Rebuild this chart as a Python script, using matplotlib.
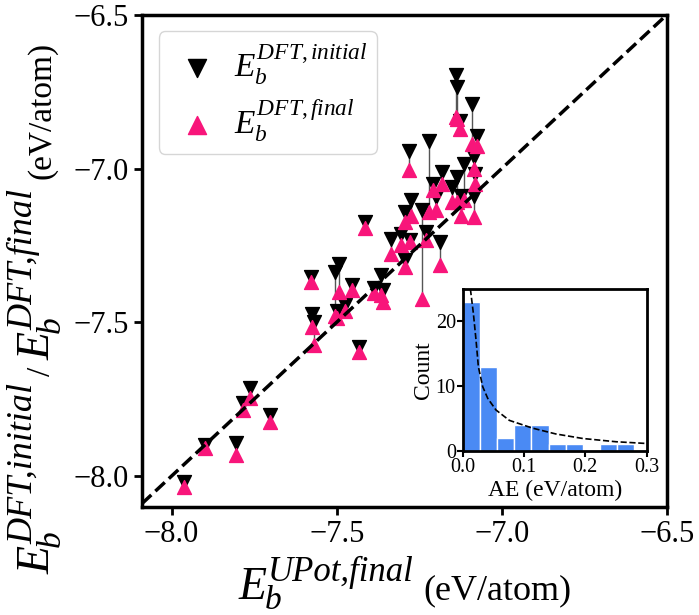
import matplotlib.pyplot as plt
from matplotlib.transforms import IdentityTransform

plt.rcParams['font.family'] = ['Liberation Serif', 'DejaVu Serif']
plt.rcParams['mathtext.fontset'] = 'custom'
plt.rcParams['mathtext.rm'] = 'Liberation Serif'
plt.rcParams['mathtext.it'] = 'Liberation Serif:italic'
plt.rcParams['mathtext.bf'] = 'Liberation Serif:bold'

# binding energies (eV/atom): UPot final vs DFT initial / final
e_upot = [-7.139, -7.136, -7.125, -7.091, -7.076, -7.281, -7.220, -7.182, -7.208, -7.137,
          -7.115, -7.081, -7.084, -7.152, -7.122, -7.083, -7.198, -7.274, -7.294, -7.243,
          -7.228, -7.334, -7.304, -7.279, -7.188, -7.294, -7.365, -7.578, -7.494, -7.504,
          -7.453, -7.476, -7.500, -7.388, -7.361, -7.574, -7.570, -7.432, -7.763, -7.785,
          -7.703, -7.899, -7.806, -7.961, -7.413]
e_init = [-6.695, -6.736, -6.844, -6.790, -6.893, -6.942, -6.909, -7.012, -7.050, -7.028,
          -6.985, -7.017, -6.963, -7.060, -7.088, -7.088, -7.093, -7.104, -7.142, -7.136,
          -7.207, -7.228, -7.212, -7.234, -7.239, -7.299, -7.347, -7.352, -7.309, -7.336,
          -7.380, -7.444, -7.465, -7.390, -7.396, -7.472, -7.500, -7.580, -7.715, -7.762,
          -7.802, -7.899, -7.894, -8.021, -7.173]
e_final = [-6.833, -6.839, -6.871, -6.920, -6.927, -7.006, -7.142, -7.050, -7.071, -7.109,
           -7.104, -7.050, -7.001, -7.109, -7.153, -7.158, -7.136, -7.153, -7.174, -7.423,
           -7.234, -7.277, -7.250, -7.239, -7.315, -7.320, -7.412, -7.368, -7.400, -7.481,
           -7.396, -7.465, -7.487, -7.406, -7.433, -7.514, -7.574, -7.596, -7.747, -7.786,
           -7.823, -7.910, -7.932, -8.037, -7.195]

# inset: AE histogram + fitted curve
ae_edges = [0.0, 0.028, 0.056, 0.084, 0.112, 0.140, 0.168, 0.196, 0.224, 0.252, 0.280]
ae_counts = [23, 13, 2, 4, 4, 1, 1, 0, 1, 1]
fit_x = [0.0125, 0.0174, 0.0217, 0.0255, 0.0326, 0.0408, 0.0543, 0.0761, 0.114, 0.152, 0.196, 0.25, 0.30]
fit_y = [25.0, 21.2, 17.1, 13.0, 9.9, 8.1, 6.3, 4.7, 3.5, 2.6, 1.9, 1.4, 1.13]

pink = '#f8157a'
blue = '#4a8af4'


def energy_pieces(sup, big=33, sup_fs=26, sub_fs=24, gap=0):
    # E with subscript b and a superscript, as separate text pieces
    return [('E', big, 'italic', gap, 0, True),
            ('b', sub_fs, 'italic', -1, -10, False),
            (sup, sup_fs, 'italic', 2, 18, True)]


def chain_text(fig, pieces, x0, y0, center, vertical=False):
    # lay out label pieces one after another (pixel coords),
    # then shift the whole group so it is centred on `center`
    renderer = fig.canvas.get_renderer()
    pos = far = 0.0
    texts = []
    for s, size, style, gap, shift, advance in pieces:
        start = pos + gap
        if vertical:
            t = fig.text(x0 - shift, y0 + start, s, fontsize=size, fontstyle=style,
                         rotation=90, rotation_mode='anchor', ha='left', va='baseline',
                         transform=IdentityTransform())
            end = t.get_window_extent(renderer).y1 - y0
        else:
            t = fig.text(x0 + start, y0 + shift, s, fontsize=size, fontstyle=style,
                         ha='left', va='baseline', transform=IdentityTransform())
            end = t.get_window_extent(renderer).x1 - x0
        far = max(far, end)
        if advance:
            pos = far
        texts.append(t)
    offset = center - ((y0 if vertical else x0) + far / 2)
    for t in texts:
        x, y = t.get_position()
        t.set_position((x, y + offset) if vertical else (x + offset, y))


fig = plt.figure(figsize=(6.99, 6.15), dpi=100)
ax = fig.add_axes([0.203, 0.176, 0.751, 0.800])

ax.vlines(e_upot, e_init, e_final, color='#555555', lw=1, zorder=1)
ax.scatter(e_upot, e_init, marker='v', s=100, c='black', zorder=2,
           label=r'$E_b^{DFT,initial}$')
ax.scatter(e_upot, e_final, marker='^', s=100, c=pink, zorder=3,
           label=r'$E_b^{DFT,final}$')
ax.axline((-7.0, -7.0), slope=1, color='black', ls='--', lw=2.5, zorder=4)

ax.set_xlim(-8.09, -6.5)
ax.set_ylim(-8.1, -6.5)
ax.set_xticks([-8.0, -7.5, -7.0, -6.5])
ax.set_yticks([-8.0, -7.5, -7.0, -6.5])
ax.tick_params(labelsize=22, width=2, length=6)
for sp in ax.spines.values():
    sp.set_linewidth(2.5)

leg = ax.legend(loc='upper left', fontsize=24, handletextpad=0.25, handlelength=1.7,
                borderpad=0.3, labelspacing=0.3, markerscale=1.3, fancybox=True)
leg.get_frame().set_edgecolor('#cccccc')

# axis labels built from pieces (large E, big super/subscripts)
chain_text(fig, energy_pieces('UPot,final', sup_fs=25) +
           [('(eV/atom)', 26, 'normal', 10, 0, True)],
           0, 16, center=405)
chain_text(fig, energy_pieces('DFT,initial') +
           [('/', 24, 'normal', 7, 0, True)] +
           energy_pieces('DFT,final', gap=7) +
           [('(eV/atom)', 24, 'normal', 10, 0, True)],
           50, 0, center=307, vertical=True)

# inset
ins = fig.add_axes([0.662, 0.267, 0.263, 0.263])
ins.hist(ae_edges[:-1], bins=ae_edges, weights=ae_counts, color=blue,
         edgecolor='white', lw=1)
ins.plot(fit_x, fit_y, color='black', ls='--', lw=1.2)
ins.set_xlim(0, 0.3)
ins.set_ylim(0, 25)
ins.set_xticks([0.0, 0.1, 0.2, 0.3])
ins.set_yticks([0, 10, 20])
ins.tick_params(labelsize=14.5, width=1.5, length=4, pad=1)
for sp in ins.spines.values():
    sp.set_linewidth(2)
ins.set_xlabel('AE (eV/atom)', fontsize=17, labelpad=2)
ins.set_ylabel('Count', fontsize=17, labelpad=1)

fig.savefig('out.png', dpi=100)
